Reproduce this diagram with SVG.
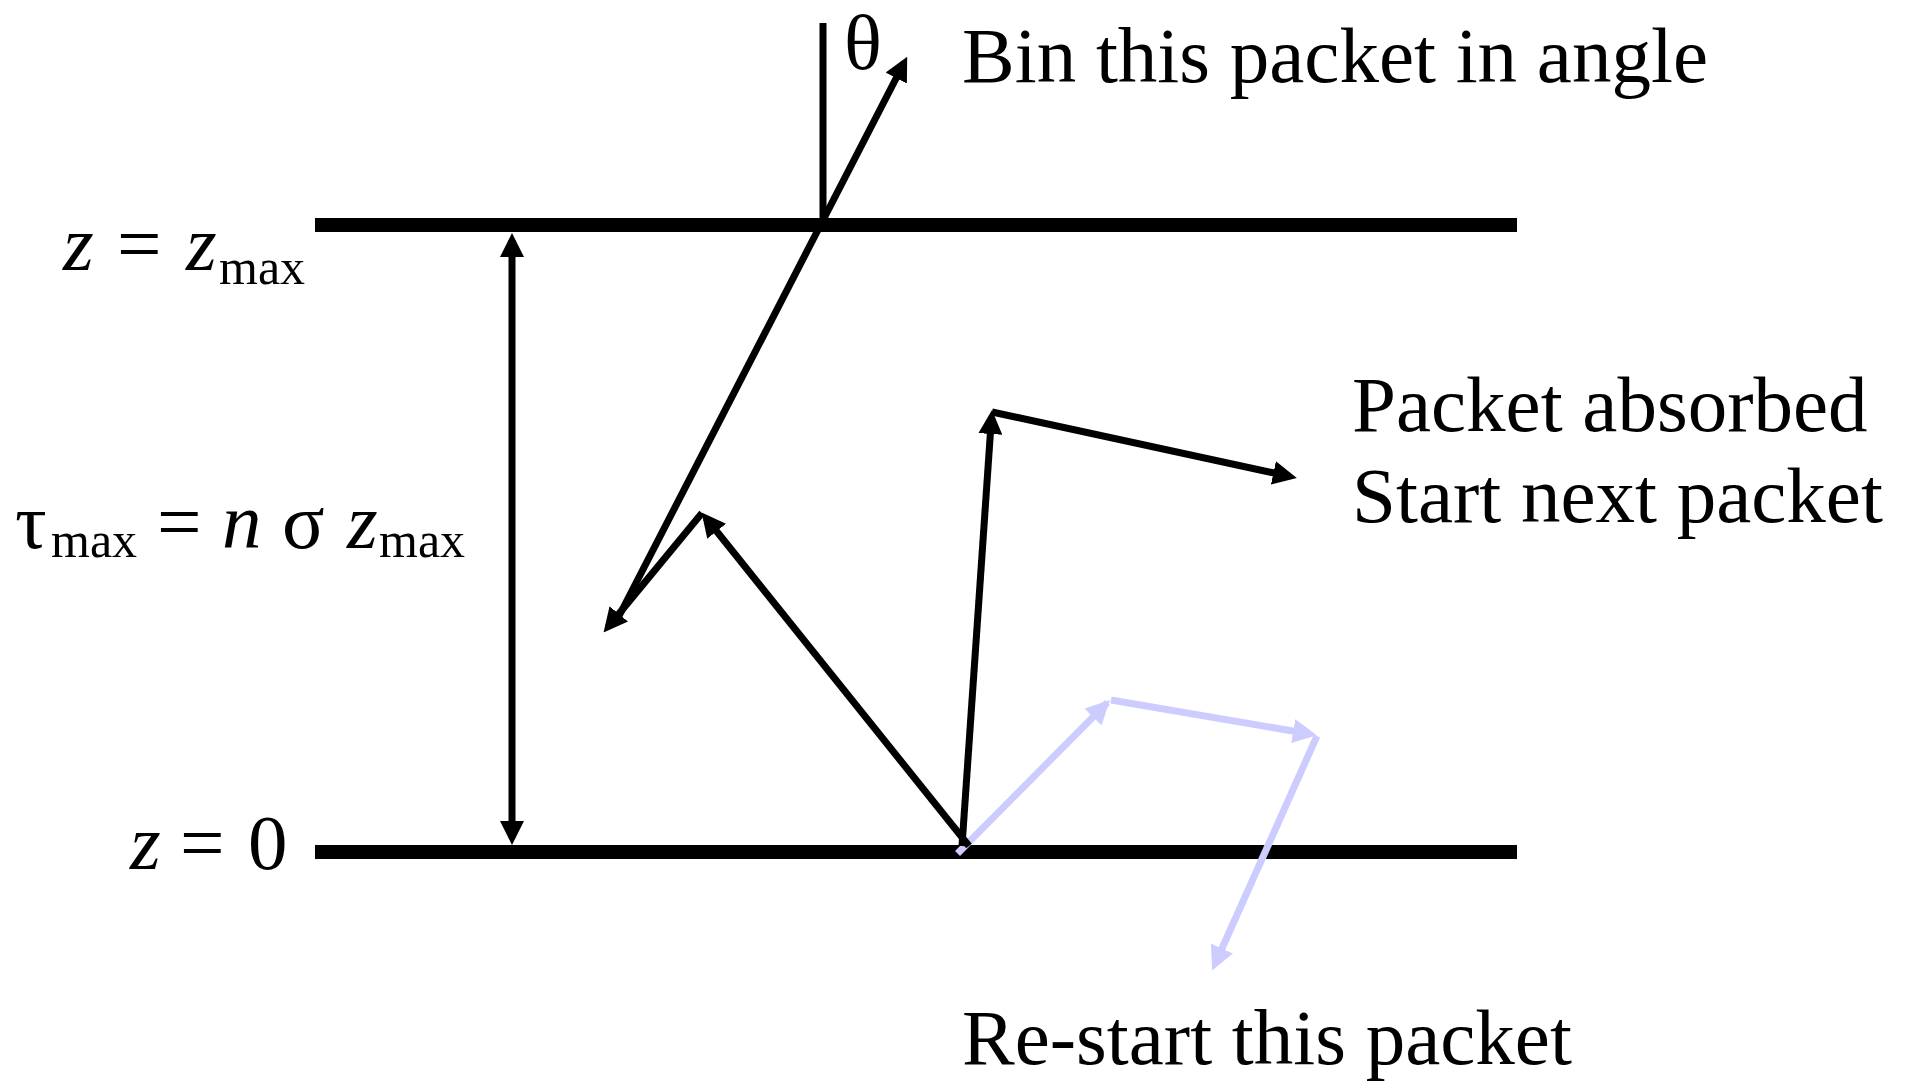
<svg xmlns="http://www.w3.org/2000/svg" width="1910" height="1084" viewBox="0 0 1910 1084">
  <style>
    .slab { stroke: #000; stroke-width: 14; fill: none; }
    .ray { stroke: #000; stroke-width: 7; fill: none; }
    .ray-alt { stroke: #ccccff; stroke-width: 7; fill: none; }
    .lbl { font-family: "Liberation Serif", "Times New Roman", serif; font-size: 79px; fill: #000; }
    .it { font-style: italic; }
    .sub { font-size: 50px; }
  </style>
  <defs>
    <marker id="head" markerUnits="userSpaceOnUse" markerWidth="24" markerHeight="24" viewBox="0 0 24 24" refX="17" refY="12" orient="auto-start-reverse">
      <path d="M0,0 L24,12 L0,24 z" fill="#000"/>
    </marker>
    <marker id="head-alt" markerUnits="userSpaceOnUse" markerWidth="24" markerHeight="24" viewBox="0 0 24 24" refX="17" refY="12" orient="auto">
      <path d="M0,0 L24,12 L0,24 z" fill="#ccccff"/>
    </marker>
  </defs>

  <!-- slab boundaries -->
  <g id="slab-top"><line class="slab" x1="315" y1="225" x2="1517" y2="225"/></g>
  <g id="slab-bottom"><line class="slab" x1="315" y1="852" x2="1517" y2="852"/></g>

  <!-- surface normal and theta -->
  <g id="normal">
    <line class="ray" x1="823" y1="23" x2="823" y2="225"/>
    <text class="lbl" x="844" y="69">θ</text>
  </g>

  <!-- boundary labels -->
  <g id="label-zmax">
    <text class="lbl it" x="63" y="270">z</text>
    <text class="lbl" x="117" y="270">=</text>
    <text class="lbl it" x="186" y="270">z</text>
    <text class="lbl sub" x="219" y="284">max</text>
  </g>
  <g id="label-tau">
    <text class="lbl" x="15" y="548">τ</text>
    <text class="lbl sub" x="51" y="557">max</text>
    <text class="lbl" x="157" y="548">=</text>
    <text class="lbl it" x="222" y="548">n</text>
    <text class="lbl" x="282" y="548">σ</text>
    <text class="lbl it" x="347" y="548">z</text>
    <text class="lbl sub" x="379" y="557">max</text>
  </g>
  <g id="label-z0">
    <text class="lbl it" x="130" y="869">z</text>
    <text class="lbl" x="180" y="869">=</text>
    <text class="lbl" x="248" y="869">0</text>
  </g>

  <!-- annotations -->
  <g id="note-bin"><text class="lbl" x="962" y="82">Bin this packet in angle</text></g>
  <g id="note-absorbed">
    <text class="lbl" x="1352" y="431">Packet absorbed</text>
    <text class="lbl" x="1352" y="522">Start next packet</text>
  </g>
  <g id="note-restart"><text class="lbl" x="962" y="1064">Re-start this packet</text></g>

  <!-- packet paths -->
  <g id="connectors">
    <!-- optical depth span -->
    <line class="ray" x1="512" y1="240" x2="512" y2="838" marker-start="url(#head)" marker-end="url(#head)"/>
    <!-- restarted packet -->
    <line class="ray-alt" x1="960" y1="851" x2="1105" y2="705" stroke-linecap="square" marker-end="url(#head-alt)"/>
    <line class="ray-alt" x1="1111" y1="700" x2="1310" y2="734" marker-end="url(#head-alt)"/>
    <line class="ray-alt" x1="1317" y1="736" x2="1215" y2="964" marker-end="url(#head-alt)"/>
    <!-- escaping packet -->
    <line class="ray" x1="969" y1="846" x2="706" y2="518" marker-end="url(#head)"/>
    <line class="ray" x1="702" y1="513" x2="608" y2="627" marker-end="url(#head)"/>
    <line class="ray" x1="619" y1="616" x2="904" y2="63" marker-end="url(#head)"/>
    <!-- absorbed packet -->
    <line class="ray" x1="962" y1="846" x2="991.5" y2="417" marker-end="url(#head)"/>
    <line class="ray" x1="992" y1="412" x2="1290" y2="476.5" marker-end="url(#head)"/>
  </g>
</svg>
